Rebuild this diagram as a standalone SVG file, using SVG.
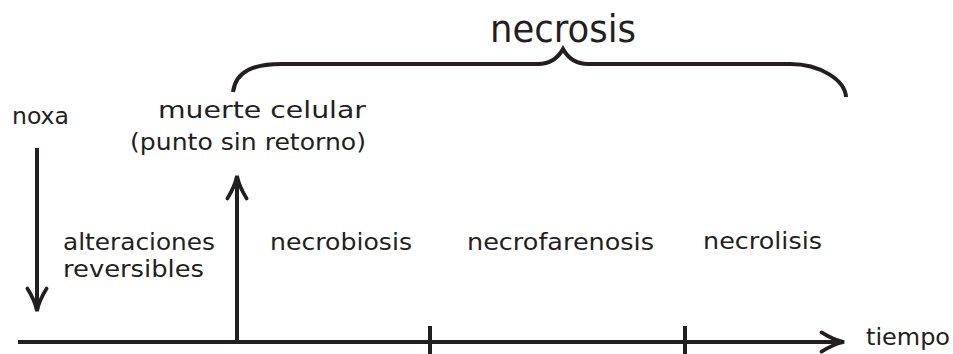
<svg xmlns="http://www.w3.org/2000/svg" width="953" height="354" viewBox="0 0 953 354">
<style>
text{font-family:"DejaVu Sans","Liberation Sans",sans-serif;fill:#231f20;font-size:23px}
.ln{stroke:#231f20;stroke-width:4;fill:none}
.big{font-size:37px}
</style>
<defs>
<marker id="ah" markerUnits="userSpaceOnUse" orient="auto" markerWidth="30" markerHeight="30" refX="0" refY="0" viewBox="-24 -12 28 24" overflow="visible">
<path d="M-20,-9 Q-9,-2 1,0 Q-9,2 -20,9" fill="none" stroke="#231f20" stroke-width="3.5" stroke-linecap="round"/>
</marker>
</defs>
<rect width="953" height="354" fill="#fff"/>
<g id="connectors">
<path class="ln" d="M18,342 L843,342" marker-end="url(#ah)"/>
<path class="ln" d="M430,326 L430,354"/>
<path class="ln" d="M685,326 L685,354"/>
<path class="ln" d="M237,342 L237,177" marker-end="url(#ah)"/>
<path class="ln" d="M37,148 L37,310" marker-end="url(#ah)"/>
<path id="brace" class="ln" d="M233,92 C236,70 255,64 282,64 L538,64 C550,64 558,58 563,49 C568,58 576,64 588,64 L790,64 C820,64 845,80 846,97"/>
</g>
<g id="necrosis"><text class="big" x="563" y="42" text-anchor="middle" textLength="146" lengthAdjust="spacingAndGlyphs">necrosis</text></g>
<g id="noxa"><text x="12" y="124" textLength="57" lengthAdjust="spacingAndGlyphs">noxa</text></g>
<g id="muerte"><text x="262" y="118" text-anchor="middle" textLength="208" lengthAdjust="spacingAndGlyphs">muerte celular</text>
<text x="248" y="150" text-anchor="middle" textLength="236" lengthAdjust="spacingAndGlyphs">(punto sin retorno)</text></g>
<g id="alteraciones"><text x="63" y="250" textLength="152" lengthAdjust="spacingAndGlyphs">alteraciones</text>
<text x="63" y="277" textLength="141" lengthAdjust="spacingAndGlyphs">reversibles</text></g>
<g id="necrobiosis"><text x="270" y="250" textLength="142" lengthAdjust="spacingAndGlyphs">necrobiosis</text></g>
<g id="necrofarenosis"><text x="467" y="250" textLength="187" lengthAdjust="spacingAndGlyphs">necrofarenosis</text></g>
<g id="necrolisis"><text x="703" y="249" textLength="119" lengthAdjust="spacingAndGlyphs">necrolisis</text></g>
<g id="tiempo"><text x="866" y="345" textLength="84" lengthAdjust="spacingAndGlyphs">tiempo</text></g>
</svg>
